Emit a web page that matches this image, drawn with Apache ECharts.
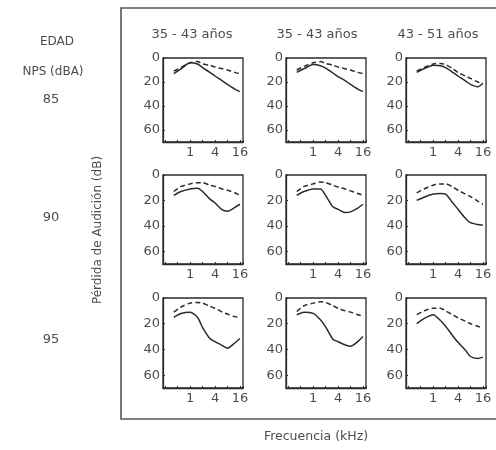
<!DOCTYPE html>
<html>
<head>
<meta charset="utf-8">
<script src="https://cdn.jsdelivr.net/npm/echarts@6/dist/echarts.min.js"></script>
<style>
html,body{margin:0;padding:0;background:#fff;}
#c{width:496px;height:450px;}
</style>
</head>
<body>
<div id="c"></div>
<script>
// ---- data ----
const freqs = [0.4, 0.6, 1, 1.5, 2, 3, 4, 6, 8, 12, 16];          // kHz
const ageGroups = ['35 - 43 años', '35 - 43 años', '43 - 51 años'];
const npsLevels = ['85', '90', '95'];
const xTickLabels = [1, 4, 16];
const yTickLabels = [0, 20, 40, 60];

// solid = expuestos, dashed = control ; rows NPS 85/90/95, columns age groups
const solid_85_a = [13, 9, 4, 5, 8, 12, 15, 19, 22, 26, 28];
const dashed_85_a = [11, 8, 4, 3, 5, 6, 7.5, 9, 10, 12, 13];
const solid_85_b = [12, 9, 5.5, 6.5, 8.5, 12.5, 15.5, 19, 22, 26, 28];
const dashed_85_b = [10, 7, 4, 3, 4.5, 6, 7.5, 9, 10, 12, 13];
const solid_85_c = [12, 9, 6, 6.5, 8, 12, 15, 19, 22, 24, 21];
const dashed_85_c = [11, 8, 5, 4.5, 5.5, 9, 12, 15, 17, 20, 21];

const solid_90_a = [16, 13, 11, 10.5, 13, 19, 22, 27.5, 28.5, 25.5, 23];
const dashed_90_a = [13, 9, 7, 6, 6, 8, 9, 11, 12, 14, 16];
const solid_90_b = [16, 13, 11, 11, 16, 25, 27, 29.5, 29, 26, 23];
const dashed_90_b = [13, 9, 7, 5.5, 6, 8, 9.5, 11, 12.5, 14.5, 16];
const solid_90_c = [20, 17.5, 15, 14.5, 15, 22, 27, 34, 37.5, 39, 39.5];
const dashed_90_c = [14, 11, 8, 7, 7, 9.5, 12, 15, 17, 20.5, 23];

const solid_95_a = [15, 12, 11, 15, 23, 31.5, 34, 37, 39, 35, 31.5];
const dashed_95_a = [11, 7, 4, 3.5, 4, 6.5, 8, 11, 12.5, 14.5, 15.5];
const solid_95_b = [13, 11, 12, 17, 22.5, 32, 34, 36.5, 37.5, 34, 30];
const dashed_95_b = [10.5, 6, 4, 3, 3.5, 6, 8, 10, 11, 13, 14];
const solid_95_c = [20, 16, 13, 17.5, 22, 29.5, 34.5, 40.5, 45.5, 47, 46];
const dashed_95_c = [13, 10, 8, 8, 10, 13, 15.5, 18, 20, 22, 23.5];

const solidRows = [[solid_85_a, solid_85_b, solid_85_c], [solid_90_a, solid_90_b, solid_90_c], [solid_95_a, solid_95_b, solid_95_c]];
const dashedRows = [[dashed_85_a, dashed_85_b, dashed_85_c], [dashed_90_a, dashed_90_b, dashed_90_c], [dashed_95_a, dashed_95_b, dashed_95_c]];

// ---- layout ----
const colLeft = [163, 286, 406];
const colW = 80;
const rowTop = [58, 175, 298];
const rowH = [84, 89, 90];
const FONT = 'DejaVu Sans';
const TXT = '#4d4d4d';
const INK = '#2b2b2b';

const grids = [], xAxes = [], yAxes = [], series = [];
let k = 0;
for (let r = 0; r < 3; r++) {
  for (let c = 0; c < 3; c++) {
    grids.push({left: colLeft[c], top: rowTop[r], width: colW, height: rowH[r],
      show: true, borderColor: INK, borderWidth: 1.3, backgroundColor: 'transparent'});
    xAxes.push({type: 'log', logBase: 2, gridIndex: k, min: 0.22, max: 19, position: 'bottom',
      axisLine: {show: true, onZero: false, lineStyle: {color: INK, width: 1.3}},
      axisTick: {show: true, inside: true, length: 2, lineStyle: {color: INK}},
      splitLine: {show: false},
      axisLabel: {margin: 4, fontFamily: FONT, fontSize: 13, color: TXT,
        showMinLabel: true, showMaxLabel: true,
        formatter: v => { const m = xTickLabels.find(t => Math.abs(t - v) < 1e-6); return m === undefined ? '' : String(m); }}
    });
    yAxes.push({type: 'value', gridIndex: k, min: 0, max: 70, interval: 20, inverse: true, position: 'left',
      axisLine: {show: true, onZero: false, lineStyle: {color: INK, width: 1.3}},
      axisTick: {show: true, inside: true, length: 2, lineStyle: {color: INK}},
      splitLine: {show: false},
      axisLabel: {margin: 3, fontFamily: FONT, fontSize: 13, color: TXT,
        formatter: v => yTickLabels.includes(v) ? String(v) : ''}
    });
    series.push({type: 'line', xAxisIndex: k, yAxisIndex: k, showSymbol: false, smooth: 0.25,
      data: freqs.map((f, j) => [f, solidRows[r][c][j]]),
      lineStyle: {color: INK, width: 1.5, type: 'solid'}, silent: true, animation: false});
    series.push({type: 'line', xAxisIndex: k, yAxisIndex: k, showSymbol: false, smooth: 0.25,
      data: freqs.map((f, j) => [f, dashedRows[r][c][j]]),
      lineStyle: {color: INK, width: 1.5, type: [5, 3]}, silent: true, animation: false});
    k++;
  }
}

const titleX = [192, 317, 438];
const graphics = [
  {type: 'rect', shape: {x: 121, y: 8, width: 380, height: 411}, style: {fill: 'none', stroke: '#555', lineWidth: 1.6}, silent: true},
  {type: 'text', x: 57, y: 42, style: {text: 'EDAD', font: '12px ' + FONT, fill: TXT, textAlign: 'center', textVerticalAlign: 'middle'}},
  {type: 'text', x: 53, y: 72, style: {text: 'NPS (dBA)', font: '12px ' + FONT, fill: TXT, textAlign: 'center', textVerticalAlign: 'middle'}},
  {type: 'text', x: 98, y: 230, rotation: Math.PI / 2, style: {text: 'Pérdida de Audición (dB)', font: '12px ' + FONT, fill: TXT, textAlign: 'center', textVerticalAlign: 'middle'}},
  {type: 'text', x: 316, y: 437, style: {text: 'Frecuencia (kHz)', font: '12.5px ' + FONT, fill: TXT, textAlign: 'center', textVerticalAlign: 'middle'}}
];
const npsY = [100, 218, 340];
npsLevels.forEach((t, i) => graphics.push({type: 'text', x: 51, y: npsY[i], style: {text: t, font: '13px ' + FONT, fill: TXT, textAlign: 'center', textVerticalAlign: 'middle'}}));
ageGroups.forEach((t, i) => graphics.push({type: 'text', x: titleX[i], y: 35, style: {text: t, font: '13px ' + FONT, fill: TXT, textAlign: 'center', textVerticalAlign: 'middle'}}));

const chart = echarts.init(document.getElementById('c'), null, {renderer: 'canvas'});
chart.setOption({
  animation: false,
  backgroundColor: '#ffffff',
  grid: grids, xAxis: xAxes, yAxis: yAxes, series: series,
  graphic: graphics
});
</script>
</body>
</html>
